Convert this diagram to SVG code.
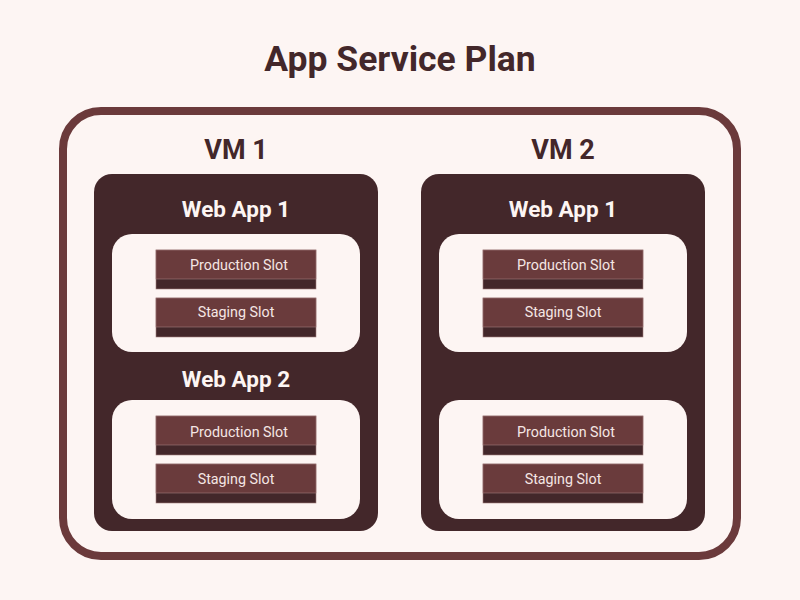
<svg xmlns="http://www.w3.org/2000/svg" width="800" height="600" viewBox="0 0 800 600">
<style>
.t{font-family:Roboto,"Liberation Sans",sans-serif;font-weight:bold;text-anchor:middle}
.vm{fill:#43272a}
.app{fill:#fdf5f3}
.st{fill:#6a3b3c}
.sb{fill:#43272a}
.sl{font-family:Roboto,"Liberation Sans",sans-serif;font-size:14.3px;fill:#f5e6e4;text-anchor:middle}
</style>
<defs>
<g id="slot">
<rect x="0" y="0" width="160" height="39" class="sb" stroke="#a07c7c" stroke-width="0.6"/>
<rect x="0" y="0" width="160" height="29" class="st" stroke="#a07c7c" stroke-width="0.6"/>
</g>
</defs>
<rect width="800" height="600" fill="#fdf5f3"/>
<text class="t" x="400" y="71" font-size="35.5" fill="#43272a">App Service Plan</text>
<g id="plan">
<rect x="63" y="111" width="674" height="445" rx="38" fill="#fdf5f3" stroke="#6b3a3b" stroke-width="8"/>
</g>
<g id="vm1">
<text class="t" x="236" y="159" font-size="27" fill="#43272a">VM 1</text>
<rect x="94" y="174" width="284" height="357" rx="18" class="vm"/>
<text class="t" x="236" y="217" font-size="22.5" fill="#fdf5f3">Web App 1</text>
<rect x="112" y="234" width="248" height="118" rx="20" class="app"/>
<use href="#slot" x="156" y="250"/>
<text class="sl" x="239" y="270">Production Slot</text>
<use href="#slot" x="156" y="298"/>
<text class="sl" x="236" y="317">Staging Slot</text>
<text class="t" x="236" y="387" font-size="22.5" fill="#fdf5f3">Web App 2</text>
<rect x="112" y="400" width="248" height="119" rx="20" class="app"/>
<use href="#slot" x="156" y="416"/>
<text class="sl" x="239" y="437">Production Slot</text>
<use href="#slot" x="156" y="464"/>
<text class="sl" x="236" y="484">Staging Slot</text>
</g>
<g id="vm2">
<text class="t" x="563" y="159" font-size="27" fill="#43272a">VM 2</text>
<rect x="421" y="174" width="284" height="357" rx="18" class="vm"/>
<text class="t" x="563" y="217" font-size="22.5" fill="#fdf5f3">Web App 1</text>
<rect x="439" y="234" width="248" height="118" rx="20" class="app"/>
<use href="#slot" x="483" y="250"/>
<text class="sl" x="566" y="270">Production Slot</text>
<use href="#slot" x="483" y="298"/>
<text class="sl" x="563" y="317">Staging Slot</text>
<rect x="439" y="400" width="248" height="119" rx="20" class="app"/>
<use href="#slot" x="483" y="416"/>
<text class="sl" x="566" y="437">Production Slot</text>
<use href="#slot" x="483" y="464"/>
<text class="sl" x="563" y="484">Staging Slot</text>
</g>
</svg>
